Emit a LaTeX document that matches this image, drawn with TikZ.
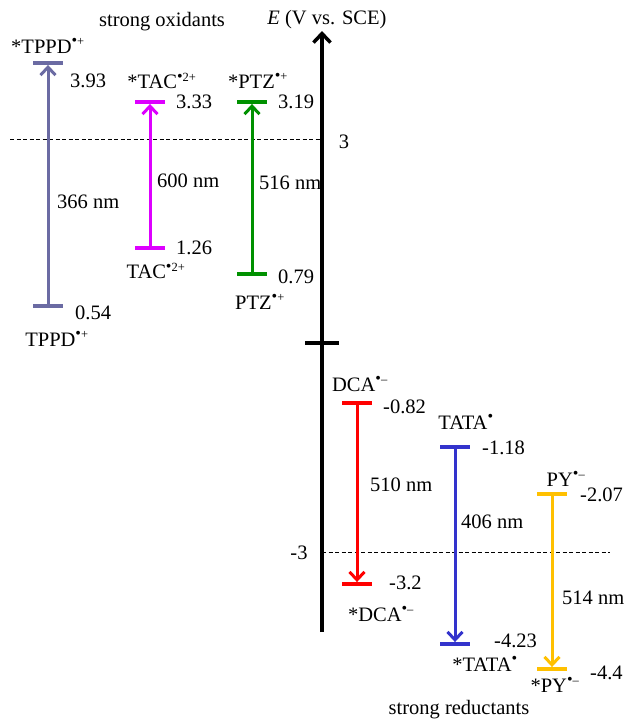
\documentclass[tikz,border=0pt]{standalone}
\usepackage{fontspec}
\setmainfont{Liberation Serif}
\usetikzlibrary{arrows.meta, positioning}
\definecolor{CS}{RGB}{107,107,163}
\definecolor{CM}{RGB}{221,0,255}
\definecolor{CG}{RGB}{0,145,0}
\definecolor{CR}{RGB}{255,0,0}
\definecolor{CB}{RGB}{51,51,204}
\definecolor{CY}{RGB}{255,192,0}
\newcommand{\radsup}[1]{\textsuperscript{\fontsize{16}{16}\selectfont•\fontsize{12.5}{12.5}\selectfont#1}}

\begin{document}
\begin{tikzpicture}[
  x=1pt, y=-1pt,
  font=\fontsize{20.5}{24}\selectfont,
  level/.style={fill=#1, minimum width=30pt, minimum height=3.5pt, inner sep=0pt},
  trans/.style={draw=#1, line width=3pt, -{Straight Barb[length=8pt, width=15pt]}},
  axis/.style={draw=black, line width=3.5pt, -{Straight Barb[length=9pt, width=17pt]}},
  guide/.style={thin, dash pattern=on 4pt off 2.5pt},
  val/.style={anchor=west, inner sep=0pt},
  lbl/.style={inner sep=0pt}
]
\useasboundingbox (0,0) rectangle (626,721);

% Reference potentials
\coordinate (axbot) at (322,632);
\coordinate (axtop) at (322,31);
\coordinate (plus3) at (10,139);
\coordinate (minus3) at (610,552);
\draw[guide] (plus3) -- (plus3 -| axbot);
\draw[guide] (minus3 -| axbot) -- (minus3);
\node[lbl] (tplus3) at (344,142) {3};
\node[lbl] (tminus3) at (299,553) {-3};

% Axis
\draw[axis] (axbot) -- (axtop);
\node[level=black, minimum width=34pt] (zero) at (322,343) {};
\node[lbl] (axlab) at (327,20) {\textit{E} (V vs. SCE)};

% Headings
\node[lbl] (oxid) at (162,22) {strong oxidants};
\node[lbl] (reduc) at (459,710) {strong reductants};

% TPPD
\node[level=CS] (tppdH) at (48,63) {};
\node[level=CS] (tppdL) at (48,306) {};
\draw[trans=CS] (tppdL) -- (tppdH);
\node[lbl] (tppdHn) at (48,46) {*TPPD\radsup{+}};
\node[val] (tppdHv) at (70,81) {3.93};
\node[val] (tppdLv) at (75,313) {0.54};
\node[lbl] (tppdLn) at (57,339) {TPPD\radsup{+}};
\node[val] (tppdW) at (57,202) {366 nm};

% TAC
\node[level=CM] (tacH) at (150,102) {};
\node[level=CM] (tacL) at (150,248) {};
\draw[trans=CM] (tacL) -- (tacH);
\node[lbl] (tacHn) at (162,81) {*TAC\radsup{2+}};
\node[val] (tacHv) at (176,102) {3.33};
\node[val] (tacLv) at (176,248) {1.26};
\node[lbl] (tacLn) at (156,271) {TAC\radsup{2+}};
\node[val] (tacW) at (157,181) {600 nm};

% PTZ
\node[level=CG] (ptzH) at (252,102) {};
\node[level=CG] (ptzL) at (252,274) {};
\draw[trans=CG] (ptzL) -- (ptzH);
\node[lbl] (ptzHn) at (258,81) {*PTZ\radsup{+}};
\node[val] (ptzHv) at (278,102) {3.19};
\node[val] (ptzLv) at (278,277) {0.79};
\node[lbl] (ptzLn) at (260,302) {PTZ\radsup{+}};
\node[val] (ptzW) at (259,183) {516 nm};

% DCA
\node[level=CR] (dcaH) at (357,403) {};
\node[level=CR] (dcaL) at (357,584) {};
\draw[trans=CR] (dcaH) -- (dcaL);
\node[lbl] (dcaHn) at (360,384) {DCA\radsup{–}};
\node[val] (dcaHv) at (383,407) {-0.82};
\node[val] (dcaLv) at (389,583) {-3.2};
\node[lbl] (dcaLn) at (381,614) {*DCA\radsup{–}};
\node[val] (dcaW) at (370,485) {510 nm};

% TATA
\node[level=CB] (tataH) at (455,447) {};
\node[level=CB] (tataL) at (455,644) {};
\draw[trans=CB] (tataH) -- (tataL);
\node[lbl] (tataHn) at (466,422) {TATA\radsup{}};
\node[val] (tataHv) at (482,448) {-1.18};
\node[val] (tataLv) at (494,641) {-4.23};
\node[lbl] (tataLn) at (485,664) {*TATA\radsup{}};
\node[val] (tataW) at (461,522) {406 nm};

% PY
\node[level=CY] (pyH) at (552,494) {};
\node[level=CY] (pyL) at (552,669) {};
\draw[trans=CY] (pyH) -- (pyL);
\node[lbl] (pyHn) at (566,479) {PY\radsup{–}};
\node[val] (pyHv) at (580,495) {-2.07};
\node[val] (pyLv) at (590,673) {-4.4};
\node[lbl] (pyLn) at (555,685) {*PY\radsup{–}};
\node[val] (pyW) at (562,598) {514 nm};
\end{tikzpicture}
\end{document}
